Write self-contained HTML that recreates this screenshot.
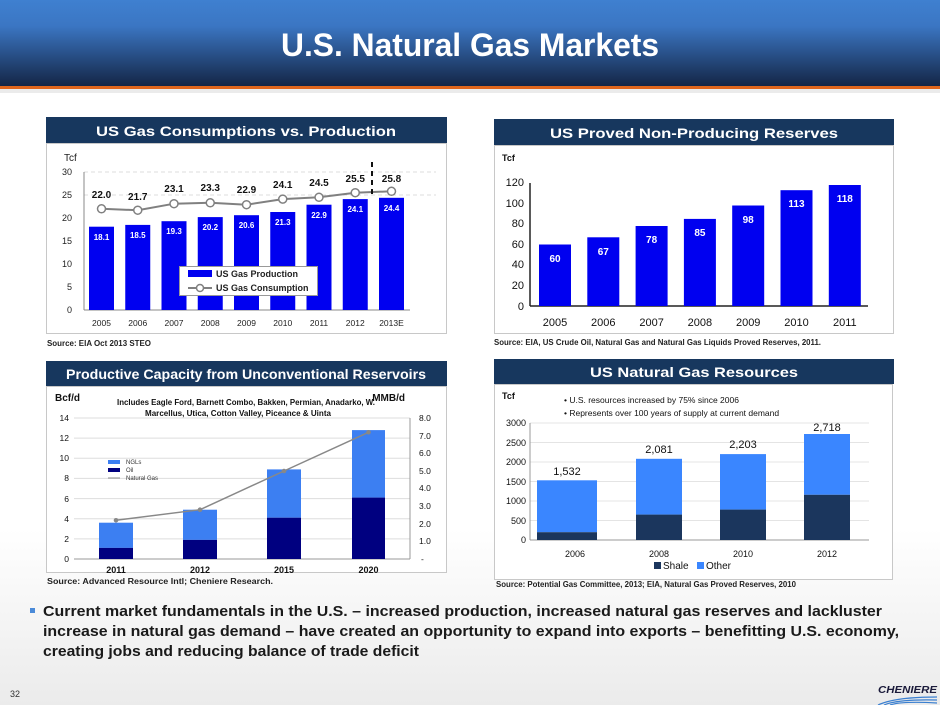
<!DOCTYPE html>
<html><head><meta charset="utf-8"><style>
html,body{margin:0;padding:0;width:940px;height:705px;overflow:hidden;background:#fff}
svg{display:block;font-family:"Liberation Sans",sans-serif}
</style></head><body>
<svg width="940" height="705" viewBox="0 0 940 705" xmlns="http://www.w3.org/2000/svg">
<defs>
<linearGradient id="hd" x1="0" y1="0" x2="0" y2="1">
<stop offset="0" stop-color="#3f80d0"/><stop offset="0.3" stop-color="#3b76c3"/><stop offset="1" stop-color="#142646"/></linearGradient>
<linearGradient id="bg" x1="0" y1="0" x2="0" y2="1">
<stop offset="0" stop-color="#ffffff"/><stop offset="0.75" stop-color="#ffffff"/><stop offset="1" stop-color="#ebebeb"/></linearGradient>
</defs>
<rect width="940" height="705" fill="url(#bg)"/>
<rect width="940" height="86" fill="url(#hd)"/>
<rect y="86" width="940" height="3" fill="#e0661c"/>
<rect y="89" width="940" height="4" fill="#d8d8d8" opacity="0.5"/>
<text x="470" y="56" text-anchor="middle" fill="#fff" font-size="32" font-weight="bold" textLength="378" lengthAdjust="spacingAndGlyphs">U.S. Natural Gas Markets</text>

<!-- Panel headers -->
<g font-weight="bold" fill="#fff" text-anchor="middle">
<rect x="46" y="117" width="401" height="26" fill="#17375e"/>
<text x="246" y="136" font-size="14" textLength="300" lengthAdjust="spacingAndGlyphs">US Gas Consumptions vs. Production</text>
<rect x="494" y="119" width="400" height="26" fill="#17375e"/>
<text x="694" y="138" font-size="14" textLength="288" lengthAdjust="spacingAndGlyphs">US Proved Non-Producing Reserves</text>
<rect x="46" y="361" width="401" height="25" fill="#17375e"/>
<text x="246" y="379" font-size="14" textLength="360" lengthAdjust="spacingAndGlyphs">Productive Capacity from Unconventional Reservoirs</text>
<rect x="494" y="359" width="400" height="25" fill="#17375e"/>
<text x="694" y="377" font-size="14" textLength="208" lengthAdjust="spacingAndGlyphs">US Natural Gas Resources</text>
</g>
<!-- Panel boxes -->
<g fill="#fff" stroke="#c8c8c8">
<rect x="46.5" y="143.5" width="400" height="190"/>
<rect x="494.5" y="145.5" width="399" height="188"/>
<rect x="46.5" y="386.5" width="400" height="186"/>
<rect x="494.5" y="384.5" width="398" height="195"/>
</g>
<g font-size="8" font-weight="bold" fill="#222">
<text x="47" y="346" textLength="104" lengthAdjust="spacingAndGlyphs">Source: EIA Oct 2013 STEO</text>
<text x="494" y="345" textLength="327" lengthAdjust="spacingAndGlyphs">Source: EIA, US Crude Oil, Natural Gas and Natural Gas Liquids Proved Reserves, 2011.</text>
<text x="47" y="584" textLength="226" lengthAdjust="spacingAndGlyphs">Source: Advanced Resource Intl; Cheniere Research.</text>
<text x="496" y="587" textLength="300" lengthAdjust="spacingAndGlyphs">Source: Potential Gas Committee, 2013; EIA, Natural Gas Proved Reserves, 2010</text>
</g>

<!-- Chart 1 -->
<g font-size="9" fill="#222">
<text x="64" y="161" font-size="10">Tcf</text>
<line x1="84" y1="195" x2="436" y2="195" stroke="#ddd" stroke-dasharray="4,3"/>
<line x1="84" y1="172" x2="436" y2="172" stroke="#ddd" stroke-dasharray="4,3"/>
<g text-anchor="end"><text x="72" y="313">0</text><text x="72" y="290">5</text><text x="72" y="267">10</text><text x="72" y="244">15</text><text x="72" y="221">20</text><text x="72" y="198">25</text><text x="72" y="175">30</text></g>
<line x1="84" y1="172" x2="84" y2="310" stroke="#888"/>
<line x1="84" y1="310" x2="410" y2="310" stroke="#888"/>
<g fill="#0000f0">
<rect x="89" y="226.7" width="25" height="83.3"/><rect x="125.25" y="224.9" width="25" height="85.1"/>
<rect x="161.5" y="221.2" width="25" height="88.8"/><rect x="197.75" y="217.1" width="25" height="92.9"/>
<rect x="234" y="215.2" width="25" height="94.8"/><rect x="270.25" y="212" width="25" height="98"/>
<rect x="306.5" y="204.7" width="25" height="105.3"/><rect x="342.75" y="199.1" width="25" height="110.9"/>
<rect x="379" y="197.8" width="25" height="112.2"/>
</g>
<g fill="#fff" font-size="8" font-weight="bold" text-anchor="middle">
<text x="101.5" y="240">18.1</text><text x="137.75" y="238">18.5</text><text x="174" y="234">19.3</text><text x="210.25" y="230">20.2</text><text x="246.5" y="228">20.6</text><text x="282.75" y="225">21.3</text><text x="319" y="218">22.9</text><text x="355.25" y="212">24.1</text><text x="391.5" y="211">24.4</text>
</g>
<polyline fill="none" stroke="#808080" stroke-width="2" points="101.5,208.8 137.75,210.2 174,203.7 210.25,202.8 246.5,204.7 282.75,199.1 319,197.3 355.25,192.7 391.5,191.3"/>
<g fill="#fff" stroke="#808080" stroke-width="1.5">
<circle cx="101.5" cy="208.8" r="4"/><circle cx="137.75" cy="210.2" r="4"/><circle cx="174" cy="203.7" r="4"/><circle cx="210.25" cy="202.8" r="4"/><circle cx="246.5" cy="204.7" r="4"/><circle cx="282.75" cy="199.1" r="4"/><circle cx="319" cy="197.3" r="4"/><circle cx="355.25" cy="192.7" r="4"/><circle cx="391.5" cy="191.3" r="4"/>
</g>
<g font-size="10" font-weight="bold" text-anchor="middle" fill="#111">
<text x="101.5" y="198">22.0</text><text x="137.75" y="200">21.7</text><text x="174" y="192">23.1</text><text x="210.25" y="191">23.3</text><text x="246.5" y="193">22.9</text><text x="282.75" y="188">24.1</text><text x="319" y="186">24.5</text><text x="355.25" y="182">25.5</text><text x="391.5" y="182">25.8</text>
</g>
<line x1="372" y1="162" x2="372" y2="196" stroke="#111" stroke-width="2" stroke-dasharray="5,4"/>
<g text-anchor="middle" font-size="8.5">
<text x="101.5" y="326">2005</text><text x="137.75" y="326">2006</text><text x="174" y="326">2007</text><text x="210.25" y="326">2008</text><text x="246.5" y="326">2009</text><text x="282.75" y="326">2010</text><text x="319" y="326">2011</text><text x="355.25" y="326">2012</text><text x="391.5" y="326">2013E</text>
</g>
<rect x="179.5" y="266.5" width="138" height="29" fill="#fff" stroke="#999"/>
<rect x="188" y="270" width="24" height="7" fill="#0000f0"/>
<text x="216" y="277" font-size="9" font-weight="bold">US Gas Production</text>
<line x1="188" y1="288" x2="212" y2="288" stroke="#808080" stroke-width="2"/><circle cx="200" cy="288" r="3.5" fill="#fff" stroke="#808080" stroke-width="1.5"/>
<text x="216" y="291" font-size="9" font-weight="bold">US Gas Consumption</text>
</g>

<!-- Chart 2 -->
<g fill="#111">
<text x="502" y="161" font-size="9" font-weight="bold">Tcf</text>
<g text-anchor="end" font-size="11"><text x="524" y="310">0</text><text x="524" y="289">20</text><text x="524" y="268">40</text><text x="524" y="248">60</text><text x="524" y="227">80</text><text x="524" y="207">100</text><text x="524" y="186">120</text></g>
<line x1="530" y1="183" x2="530" y2="306" stroke="#222" stroke-width="1.5"/>
<line x1="530" y1="306" x2="868" y2="306" stroke="#222" stroke-width="1.5"/>
<g fill="#0000f0">
<rect x="539" y="244.5" width="32" height="61.5"/><rect x="587.3" y="237.3" width="32" height="68.7"/>
<rect x="635.6" y="226" width="32" height="80"/><rect x="683.9" y="218.9" width="32" height="87.1"/>
<rect x="732.2" y="205.5" width="32" height="100.5"/><rect x="780.5" y="190.2" width="32" height="115.8"/>
<rect x="828.8" y="185" width="32" height="121"/>
</g>
<g fill="#fff" font-size="10" font-weight="bold" text-anchor="middle">
<text x="555" y="262">60</text><text x="603.3" y="255">67</text><text x="651.6" y="243">78</text><text x="699.9" y="236">85</text><text x="748.2" y="223">98</text><text x="796.5" y="207">113</text><text x="844.8" y="202">118</text>
</g>
<g text-anchor="middle" font-size="11">
<text x="555" y="326">2005</text><text x="603.3" y="326">2006</text><text x="651.6" y="326">2007</text><text x="699.9" y="326">2008</text><text x="748.2" y="326">2009</text><text x="796.5" y="326">2010</text><text x="844.8" y="326">2011</text>
</g>
</g>

<!-- Chart 3 -->
<g fill="#111">
<text x="55" y="401" font-size="10" font-weight="bold">Bcf/d</text>
<text x="405" y="401" font-size="10" font-weight="bold" text-anchor="end">MMB/d</text>
<text x="246" y="405" font-size="8" font-weight="bold" text-anchor="middle" textLength="258" lengthAdjust="spacingAndGlyphs">Includes Eagle Ford, Barnett Combo, Bakken, Permian, Anadarko, W.</text>
<text x="238" y="416" font-size="8" font-weight="bold" text-anchor="middle" textLength="186" lengthAdjust="spacingAndGlyphs">Marcellus, Utica, Cotton Valley, Piceance &amp; Uinta</text>
<g stroke="#ddd"><line x1="74" y1="418" x2="410" y2="418"/><line x1="74" y1="438.1" x2="410" y2="438.1"/><line x1="74" y1="458.3" x2="410" y2="458.3"/><line x1="74" y1="478.4" x2="410" y2="478.4"/><line x1="74" y1="498.6" x2="410" y2="498.6"/><line x1="74" y1="518.7" x2="410" y2="518.7"/><line x1="74" y1="538.9" x2="410" y2="538.9"/></g>
<g text-anchor="end" font-size="8.5"><text x="69" y="562">0</text><text x="69" y="542">2</text><text x="69" y="522">4</text><text x="69" y="502">6</text><text x="69" y="481">8</text><text x="69" y="461">10</text><text x="69" y="441">12</text><text x="69" y="421">14</text></g>
<g font-size="8.5"><text x="419" y="421">8.0</text><text x="419" y="439">7.0</text><text x="419" y="456">6.0</text><text x="419" y="474">5.0</text><text x="419" y="491">4.0</text><text x="419" y="509">3.0</text><text x="419" y="527">2.0</text><text x="419" y="544">1.0</text><text x="421" y="562">-</text></g>
<line x1="410" y1="418" x2="410" y2="559" stroke="#999"/>
<line x1="74" y1="559" x2="410" y2="559" stroke="#999"/>
<rect x="99" y="522.7" width="34" height="25.2" fill="#3c7ff2"/><rect x="99" y="547.9" width="34" height="11.1" fill="#000080"/>
<rect x="183" y="509.7" width="34" height="30.2" fill="#3c7ff2"/><rect x="183" y="539.9" width="34" height="19.1" fill="#000080"/>
<rect x="267" y="469.4" width="34" height="48.3" fill="#3c7ff2"/><rect x="267" y="517.7" width="34" height="41.3" fill="#000080"/>
<rect x="352" y="430.1" width="33" height="67.5" fill="#3c7ff2"/><rect x="352" y="497.6" width="33" height="61.4" fill="#000080"/>
<polyline fill="none" stroke="#888" stroke-width="1.5" points="116,520.3 200,509.7 284,471 368.5,432.3"/>
<g fill="#888"><circle cx="116" cy="520.3" r="2.3"/><circle cx="200" cy="509.7" r="2.3"/><circle cx="284" cy="471" r="2.3"/><circle cx="368.5" cy="432.3" r="2.3"/></g>
<rect x="108" y="460" width="12" height="4" fill="#3c7ff2"/><text x="126" y="464" font-size="6" fill="#333">NGLs</text>
<rect x="108" y="468" width="12" height="4" fill="#000080"/><text x="126" y="472" font-size="6" fill="#333">Oil</text>
<line x1="108" y1="478" x2="120" y2="478" stroke="#888"/><text x="126" y="480" font-size="6" fill="#333">Natural Gas</text>
<g text-anchor="middle" font-size="9" font-weight="bold"><text x="116" y="573">2011</text><text x="200" y="573">2012</text><text x="284" y="573">2015</text><text x="368.5" y="573">2020</text></g>
</g>

<!-- Chart 4 -->
<g fill="#111">
<text x="502" y="399" font-size="9" font-weight="bold">Tcf</text>
<text x="564" y="403" font-size="8.5">• U.S. resources increased by 75% since 2006</text>
<text x="564" y="416" font-size="8.5">• Represents over 100 years of supply at current demand</text>
<g stroke="#e4e4e4"><line x1="530" y1="423" x2="869" y2="423"/><line x1="530" y1="442.5" x2="869" y2="442.5"/><line x1="530" y1="462" x2="869" y2="462"/><line x1="530" y1="481.5" x2="869" y2="481.5"/><line x1="530" y1="501" x2="869" y2="501"/><line x1="530" y1="520.5" x2="869" y2="520.5"/></g>
<g text-anchor="end" font-size="9"><text x="526" y="543">0</text><text x="526" y="524">500</text><text x="526" y="504">1000</text><text x="526" y="485">1500</text><text x="526" y="465">2000</text><text x="526" y="446">2500</text><text x="526" y="426">3000</text></g>
<line x1="530" y1="423" x2="530" y2="540" stroke="#999"/>
<line x1="530" y1="540" x2="869" y2="540" stroke="#999"/>
<rect x="537" y="480.3" width="60" height="51.9" fill="#3a86ff"/><rect x="537" y="532.2" width="60" height="7.8" fill="#1b365d"/>
<rect x="636" y="458.8" width="46" height="55.8" fill="#3a86ff"/><rect x="636" y="514.6" width="46" height="25.4" fill="#1b365d"/>
<rect x="720" y="454.1" width="46" height="55.5" fill="#3a86ff"/><rect x="720" y="509.6" width="46" height="30.4" fill="#1b365d"/>
<rect x="804" y="434" width="46" height="60.8" fill="#3a86ff"/><rect x="804" y="494.8" width="46" height="45.2" fill="#1b365d"/>
<g text-anchor="middle" font-size="11"><text x="567" y="475">1,532</text><text x="659" y="453">2,081</text><text x="743" y="448">2,203</text><text x="827" y="431">2,718</text></g>
<g text-anchor="middle" font-size="9"><text x="575" y="557">2006</text><text x="659" y="557">2008</text><text x="743" y="557">2010</text><text x="827" y="557">2012</text></g>
<rect x="654" y="562" width="7" height="7" fill="#1b365d"/><text x="663" y="569" font-size="10">Shale</text>
<rect x="697" y="562" width="7" height="7" fill="#3a86ff"/><text x="706" y="569" font-size="10">Other</text>
</g>

<!-- Bottom text -->
<rect x="30" y="608" width="5" height="5" fill="#4a8ad8"/>
<g font-size="15" font-weight="bold" fill="#1a1a1a">
<text x="43" y="616" textLength="839" lengthAdjust="spacingAndGlyphs">Current market fundamentals in the U.S. – increased production, increased natural gas reserves and lackluster</text>
<text x="43" y="636" textLength="856" lengthAdjust="spacingAndGlyphs">increase in natural gas demand – have created an opportunity to expand into exports – benefitting U.S. economy,</text>
<text x="43" y="656" textLength="376" lengthAdjust="spacingAndGlyphs">creating jobs and reducing balance of trade deficit</text>
</g>
<text x="10" y="697" font-size="9" fill="#333">32</text>
<text x="937" y="693" font-size="10" font-weight="bold" font-style="italic" fill="#1a1a3a" text-anchor="end" textLength="59" lengthAdjust="spacingAndGlyphs">CHENIERE</text>
<g fill="none" stroke="#3a7fd0" stroke-width="1.2">
<path d="M878 705 Q895 697 937 697"/><path d="M884 705 Q898 699 937 700"/><path d="M890 705 Q902 701 937 703"/>
</g>
</svg>
</body></html>
